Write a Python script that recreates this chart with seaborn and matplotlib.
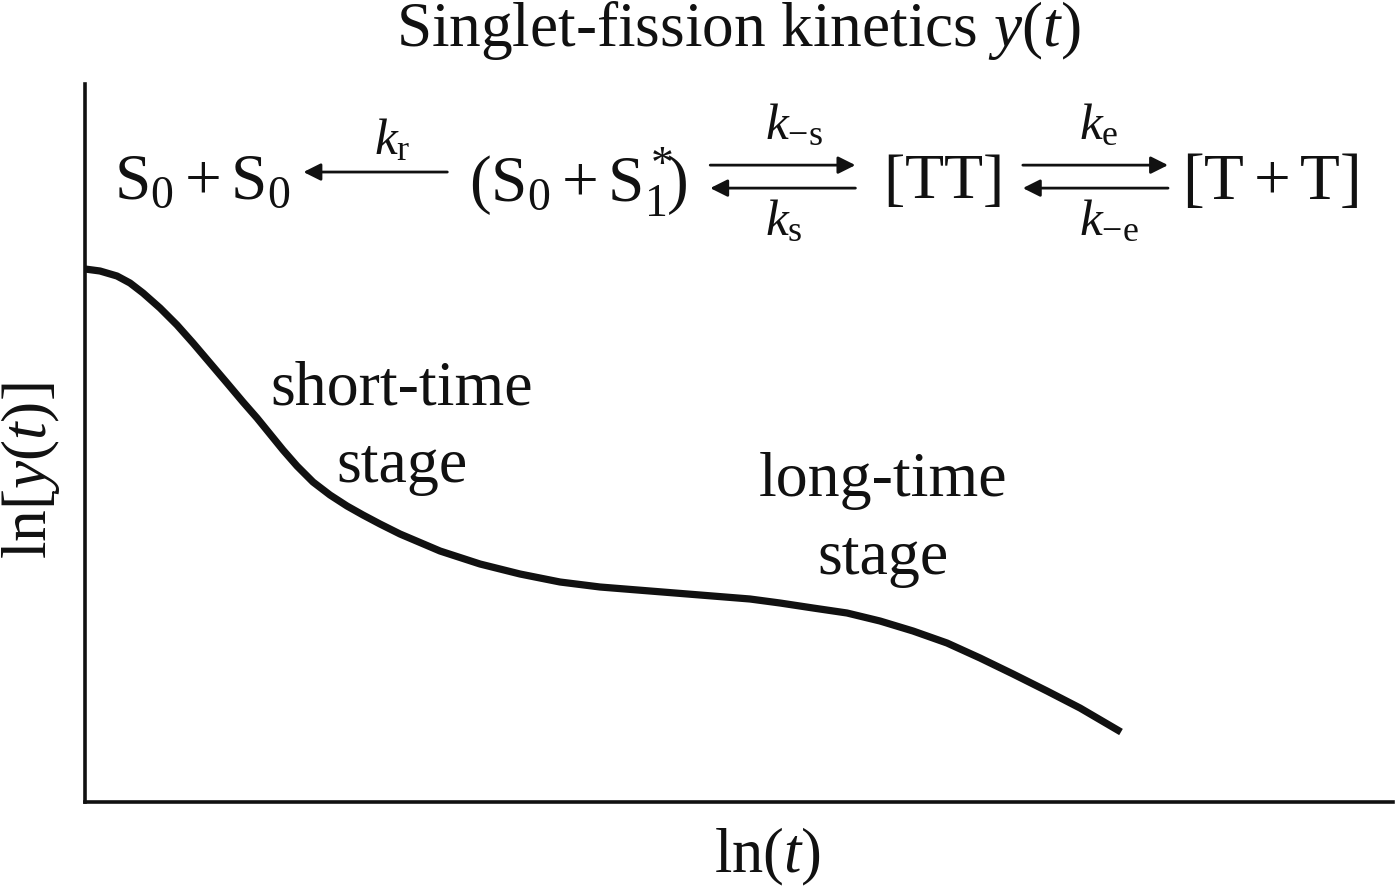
import matplotlib
matplotlib.use("Agg")
import matplotlib.pyplot as plt
import pandas as pd
import seaborn as sns

# curve, arbitrary log units
ln_t = [0, 15, 32, 45, 58, 75, 92, 108, 125, 142, 158, 172, 185, 198, 212, 228, 245, 262,
        278, 295, 315, 355, 395, 435, 475, 515, 565, 615, 665, 695, 728, 762, 795, 828,
        862, 895, 928, 962, 995, 1036]
ln_y = [533, 531, 526, 519, 509, 494, 477, 459, 439, 419, 400, 384, 368, 352, 336, 320,
        307, 296, 287, 278, 268, 251, 238, 228, 220, 215, 211, 207, 203, 199, 194, 189,
        181, 171, 159, 144, 128, 111, 94, 70]

# scheme labels: text, x, y, size (x, y as axes fractions)
scheme_labels = [
    (r"$\mathrm{S}_0 + \mathrm{S}_0$", 0.090, 0.862, 47),
    (r"$(\mathrm{S}_0 + \mathrm{S}_1^*\!\!)$", 0.377, 0.862, 47),
    (r"$[\mathrm{TT}]$", 0.655, 0.862, 46),
    (r"$[\mathrm{T} + \mathrm{T}]$", 0.906, 0.862, 47),
    (r"$k_\mathrm{r}$", 0.235, 0.92, 37),
    (r"$k_{-\mathrm{s}}$", 0.542, 0.94, 37),
    (r"$k_\mathrm{s}$", 0.534, 0.807, 37),
    (r"$k_\mathrm{e}$", 0.775, 0.94, 37),
    (r"$k_{-\mathrm{e}}$", 0.783, 0.807, 37),
]
# arrows: tail x, head x, y (axes fractions)
scheme_arrows = [
    (0.277, 0.167, 0.8774),
    (0.478, 0.589, 0.887),
    (0.589, 0.478, 0.855),
    (0.717, 0.828, 0.887),
    (0.828, 0.717, 0.855),
]
stage_labels = [
    ("short-time\nstage", 0.242, 0.521),
    ("long-time\nstage", 0.610, 0.393),
]

sns.set_style("white")
plt.rcParams["font.family"] = ["Liberation Serif", "DejaVu Serif"]
plt.rcParams["mathtext.fontset"] = "custom"
plt.rcParams["mathtext.rm"] = "Liberation Serif"
plt.rcParams["mathtext.it"] = "Liberation Serif:italic"
plt.rcParams["mathtext.bf"] = "Liberation Serif:bold"

fig = plt.figure(figsize=(13.97, 8.86), dpi=100)
ax = fig.add_axes([85 / 1397, 84 / 886, 1308 / 1397, 718 / 886])

df = pd.DataFrame({"ln_t": ln_t, "ln_y": ln_y})
sns.lineplot(data=df, x="ln_t", y="ln_y", sort=False, estimator=None, color="#111111",
             linewidth=5.2, solid_capstyle="butt", solid_joinstyle="round", ax=ax, clip_on=False)

ax.set_xlim(0, 1308)
ax.set_ylim(0, 718)
ax.set_xticks([])
ax.set_yticks([])
ax.set_xlabel("")
ax.set_ylabel("")
sns.despine(ax=ax)
for side in ["left", "bottom"]:
    ax.spines[side].set_linewidth(2.6)
    ax.spines[side].set_color("#111111")

fig.text(738 / 1397, 1 - 30 / 886, r"Singlet-fission kinetics $y(t)$", ha="center", va="center", fontsize=45.5,
         color="#111111")
fig.text(767 / 1397, 1 - 857 / 886, r"ln$(t)$", ha="center", va="center", fontsize=45, color="#111111")
fig.text(31 / 1397, 1 - 471 / 886, r"ln$[y(t)]$", ha="center", va="center", rotation=90, fontsize=45.5,
         color="#111111")

for label, x, y, size in scheme_labels:
    ax.text(x, y, label, transform=ax.transAxes, ha="center", va="center", fontsize=size, color="#111111")

for tail, head, y in scheme_arrows:
    ax.annotate("", xy=(head, y), xytext=(tail, y), xycoords="axes fraction", textcoords="axes fraction",
                arrowprops=dict(arrowstyle="-|>", color="#111111", lw=2, mutation_scale=26, shrinkA=0, shrinkB=0))

for label, x, y in stage_labels:
    ax.text(x, y, label, transform=ax.transAxes, ha="center", va="center", fontsize=46, linespacing=1.44,
            color="#111111")

fig.savefig("out.png", dpi=100)
